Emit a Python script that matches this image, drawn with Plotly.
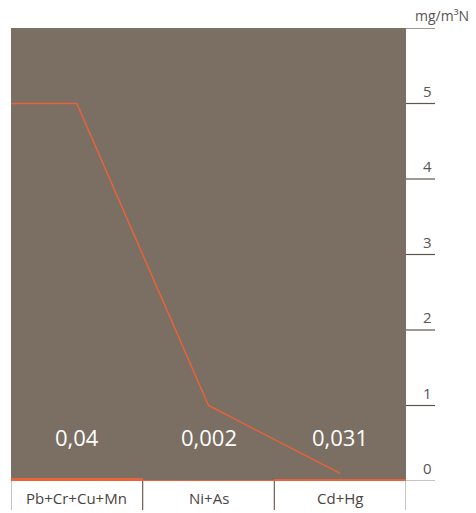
import plotly.graph_objects as go

categories = ["Pb+Cr+Cu+Mn", "Ni+As", "Cd+Hg"]
values = [0.04, 0.002, 0.031]
value_labels = ["0,04", "0,002", "0,031"]
limit_values = [5, 5, 1, 0.1]
limit_x = [-0.5, 0, 1, 2]
tick_vals = [0, 1, 2, 3, 4, 5]
tick_labels = ["0", "1", "2", "3", "4", "5"]
unit_label = "mg/m³N"

BROWN = "#7b6e62"
ORANGE = "#e8633a"
FONT = "Open Sans"

fig = go.Figure()
fig.add_trace(go.Bar(x=list(range(len(categories))), y=values, width=1,
                     marker=dict(color=ORANGE, line=dict(width=0)), hoverinfo="skip"))
fig.add_trace(go.Scatter(x=limit_x, y=limit_values, mode="lines",
                         line=dict(color=ORANGE, width=1.5), hoverinfo="skip"))

W, H = 476, 513
ml, mr, mt, mb = 11, 70, 28, 32
pw = W - ml - mr
ph = H - mt - mb

shapes = []
annotations = []
# tick lines and labels on the right
for v, t in zip(tick_vals + [6], tick_labels + [None]):
    shapes.append(dict(type="line", xref="paper", yref="y", x0=1.0, x1=1 + 29 / pw,
                       y0=v, y1=v, line=dict(color="#a39b94" if v == 0 else "#5e554e", width=1.2)))
    if t is not None:
        annotations.append(dict(xref="paper", yref="y", x=1 + 28 / pw, y=v, text=t,
                                showarrow=False, xanchor="right", yanchor="bottom", yshift=1,
                                font=dict(family=FONT, size=15, color="#5a5450")))
annotations.append(dict(xref="paper", yref="y", x=1 + 65 / pw, y=6, text=unit_label,
                        showarrow=False, xanchor="right", yanchor="bottom", yshift=1,
                        font=dict(family=FONT, size=14, color="#5a5450")))
# value labels inside plot
for i, lab in enumerate(value_labels):
    annotations.append(dict(xref="x", yref="y", x=i, y=0.58, text=lab, showarrow=False,
                            xanchor="center", yanchor="middle",
                            font=dict(family=FONT, size=22, color="white")))
# category labels below with separators
for i, c in enumerate(categories):
    annotations.append(dict(xref="x", yref="paper", x=i, y=-17 / ph, text=c, showarrow=False,
                            xanchor="center", yanchor="middle",
                            font=dict(family=FONT, size=15, color="#4a4440")))
for j, xb in enumerate([-0.5, 0.5, 1.5, 2.5]):
    col = "#a39b94" if j in (0, 3) else "#6b5f55"
    shapes.append(dict(type="line", xref="x", yref="paper", x0=xb, x1=xb, y0=0, y1=-29 / ph,
                       line=dict(color=col, width=1.2)))

fig.update_layout(
    width=W, height=H,
    margin=dict(l=ml, r=mr, t=mt, b=mb),
    paper_bgcolor="white", plot_bgcolor=BROWN,
    showlegend=False, bargap=0,
    xaxis=dict(range=[-0.5, 2.5], showgrid=False, zeroline=False, showticklabels=False,
               ticks="", fixedrange=True),
    yaxis=dict(range=[0, 6], showgrid=False, zeroline=False, showticklabels=False,
               ticks="", fixedrange=True),
    shapes=shapes, annotations=annotations,
)
fig.write_html("out.html", config={"displayModeBar": False},
               post_script="document.body.style.margin='0';document.body.style.overflow='hidden';")
